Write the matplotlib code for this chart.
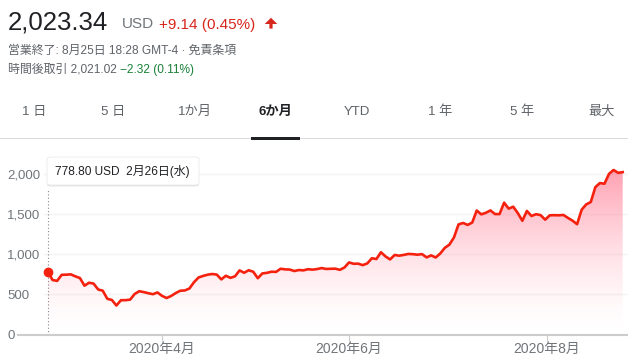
import matplotlib
matplotlib.use('Agg')
import matplotlib.pyplot as plt
from matplotlib.patches import FancyBboxPatch, Rectangle, Polygon
import numpy as np

plt.rcParams['font.family'] = ['Liberation Sans', 'Noto Sans CJK JP', 'DejaVu Sans']

# closing prices by month (2020/2/26 - 2020/8/25, trading days)
feb = [778.80, 679.00, 667.99]
mar = [743.62, 745.51, 749.50, 724.54, 703.48, 608.00, 645.33, 634.23, 560.55, 546.62,
       445.07, 430.20, 361.22, 427.64, 427.53, 434.29, 505.00, 539.25, 528.16, 514.36,
       502.13, 524.00]
apr = [481.56, 454.47, 480.01, 516.24, 545.45, 548.84, 573.00, 650.95, 709.89, 729.83,
       745.21, 753.89, 746.36, 686.72, 732.11, 705.63, 725.15, 798.75, 769.12, 800.51,
       781.88]
may = [701.32, 761.19, 768.21, 782.58, 780.04, 819.42, 811.29, 809.41, 790.96, 803.33,
       799.17, 813.63, 808.01, 815.56, 827.60, 816.88, 818.87, 820.23, 805.81, 835.00]
jun = [898.10, 881.56, 882.96, 864.38, 885.66, 949.92, 940.67, 1025.05, 972.84, 935.28,
       990.90, 982.13, 991.79, 1003.96, 1000.90, 994.32, 1001.78, 960.85, 985.98, 959.74,
       1009.35, 1079.81]
jul = [1119.63, 1208.66, 1371.58, 1389.86, 1365.88, 1394.28, 1544.65, 1497.06, 1516.80,
       1546.01, 1500.64, 1500.84, 1643.00, 1568.36, 1592.33, 1513.07, 1417.00, 1539.60,
       1476.49, 1499.11, 1487.49, 1430.76]
aug = [1485.00, 1487.00, 1485.02, 1489.58, 1452.71, 1418.57, 1374.39, 1554.76, 1621.00,
       1650.71, 1835.64, 1887.09, 1878.53, 2001.83, 2049.98, 2014.20, 2023.34]

closes = feb + mar + apr + may + jun + jul + aug
x = np.arange(len(closes))

# month ticks (8/1 is a Saturday, so it sits a third of the way past 7/31)
tick_pos = [25, 66, 109 + 1 / 3]
tick_labels = ['2020年4月', '2020年6月', '2020年8月']
yticks = [0, 500, 1000, 1500, 2000]
ytick_labels = ['0', '500', '1,000', '1,500', '2,000']

tabs = ['1 日', '5 日', '1か月', '6か月', 'YTD', '1 年', '5 年', '最大']
tab_x = [34, 113, 195, 275, 357, 440, 522, 602]

W, H = 628, 360
RED = '#f5210f'
GRAY = '#70757a'


def fx(px):
    return px / W


def fy(py):
    return 1 - py / H


fig = plt.figure(figsize=(W / 100, H / 100), dpi=100)

# header
fig.text(fx(8), fy(29.5), '2,023.34', fontsize=18.5, color='#202124', va='baseline')
fig.text(fx(122), fy(28.5), 'USD', fontsize=11, color=GRAY, va='baseline')
fig.text(fx(159), fy(28.5), '+9.14 (0.45%)', fontsize=11, color='#d7261c', va='baseline')
arrow = [(271, 17.8), (277.3, 24), (272.6, 24), (272.6, 28.6), (269.4, 28.6),
         (269.4, 24), (264.7, 24)]
fig.patches.append(Polygon([(fx(a), fy(b)) for a, b in arrow], closed=True,
                           transform=fig.transFigure, facecolor='#d7261c', edgecolor='none'))
fig.text(fx(8), fy(50.7), '営業終了: 8月25日 18:28 GMT-4 · 免責条項', fontsize=8.6,
         color='#5f6368', va='center')
fig.text(fx(8), fy(70), '時間後取引 2,021.02', fontsize=8.6, color='#5f6368', va='center')
fig.text(fx(120), fy(70), '−2.32 (0.11%)', fontsize=8.6, color='#188038', va='center')

# range tabs
for t, tx in zip(tabs, tab_x):
    if t == '6か月':
        fig.text(fx(tx), fy(112), t, fontsize=9.5, color='#202124', fontweight='bold',
                 ha='center', va='center')
    else:
        fig.text(fx(tx), fy(112), t, fontsize=9.5, color='#5f6368', ha='center', va='center')
fig.patches.append(Rectangle((0, fy(139.5)), 1, 1 / H, transform=fig.transFigure,
                             facecolor='#dadce0', edgecolor='none'))
fig.patches.append(Rectangle((fx(251), fy(140)), fx(300) - fx(251), 3 / H,
                             transform=fig.transFigure, facecolor='#202124', edgecolor='none'))

# chart
left, top, bottom = 18, 150, 334.5
ax = fig.add_axes([fx(left), fy(bottom), fx(W) - fx(left), (bottom - top) / H])
pxper = (622.7 - 48) / (len(closes) - 1)
xmin = -(48 - left) / pxper
xmax = (len(closes) - 1) + (W - 622.7) / pxper
ymax = (bottom - top) / (160.5 / 2000)

poly = ax.fill_between(x, closes, 0, facecolor='none', edgecolor='none')
grad = np.zeros((256, 1, 4))
grad[:, 0, 0] = 1.0
grad[:, 0, 1] = 0.41
grad[:, 0, 2] = 0.52
grad[:, 0, 3] = 0.75 * np.linspace(0, 1, 256) ** 1.6
img = ax.imshow(grad, extent=[0, len(closes) - 1, 0, ymax], origin='lower',
                aspect='auto', zorder=1, interpolation='bilinear')
img.set_clip_path(poly.get_paths()[0], transform=ax.transData)

for v in yticks[1:]:
    ax.axhline(v, xmin=(44 - left) / (W - left), color='#f4f4f4', lw=1, zorder=0)

ax.plot(x, closes, color=RED, lw=1.9, zorder=3, solid_joinstyle='round')
ax.vlines(0, 0, 1800, colors='#8a8a8a', linestyles=(0, (1, 2)), lw=0.8, zorder=2)
ax.plot(0, closes[0], 'o', color=RED, ms=6, zorder=4)

ax.set_xlim(xmin, xmax)
ax.set_ylim(0, ymax)
for s in ['top', 'right', 'left']:
    ax.spines[s].set_visible(False)
ax.spines['bottom'].set_color('#cccccc')
ax.spines['bottom'].set_linewidth(1.5)
ax.set_xticks(tick_pos)
ax.set_xticklabels(tick_labels)
ax.tick_params(axis='x', length=4, width=0.8, color='#cccccc', pad=1.5,
               labelsize=10, labelcolor=GRAY)
ax.set_yticks(yticks)
ax.set_yticklabels(ytick_labels)
ax.tick_params(axis='y', length=0, pad=(left - 7) * 0.72, labelsize=9.5, labelcolor=GRAY)
for lbl in ax.get_yticklabels():
    lbl.set_horizontalalignment('left')
ax.patch.set_alpha(0)

# tooltip
shadow = FancyBboxPatch((fx(47), fy(186.5)), fx(199) - fx(47), (186.5 - 157.5) / H,
                        boxstyle='round,pad=0,rounding_size=0.006', transform=fig.transFigure,
                        facecolor=(0, 0, 0, 0.10), edgecolor='none', zorder=5)
box = FancyBboxPatch((fx(47), fy(185)), fx(199) - fx(47), (185 - 157) / H,
                     boxstyle='round,pad=0,rounding_size=0.006', transform=fig.transFigure,
                     facecolor='white', edgecolor='#e6e6e6', lw=0.5, zorder=6)
fig.patches.append(shadow)
fig.patches.append(box)
fig.text(fx(55), fy(171.5), '778.80 USD  2月26日(水)', fontsize=8.6, color='#202124',
         va='center', zorder=7)

fig.savefig('out.png', dpi=100)
